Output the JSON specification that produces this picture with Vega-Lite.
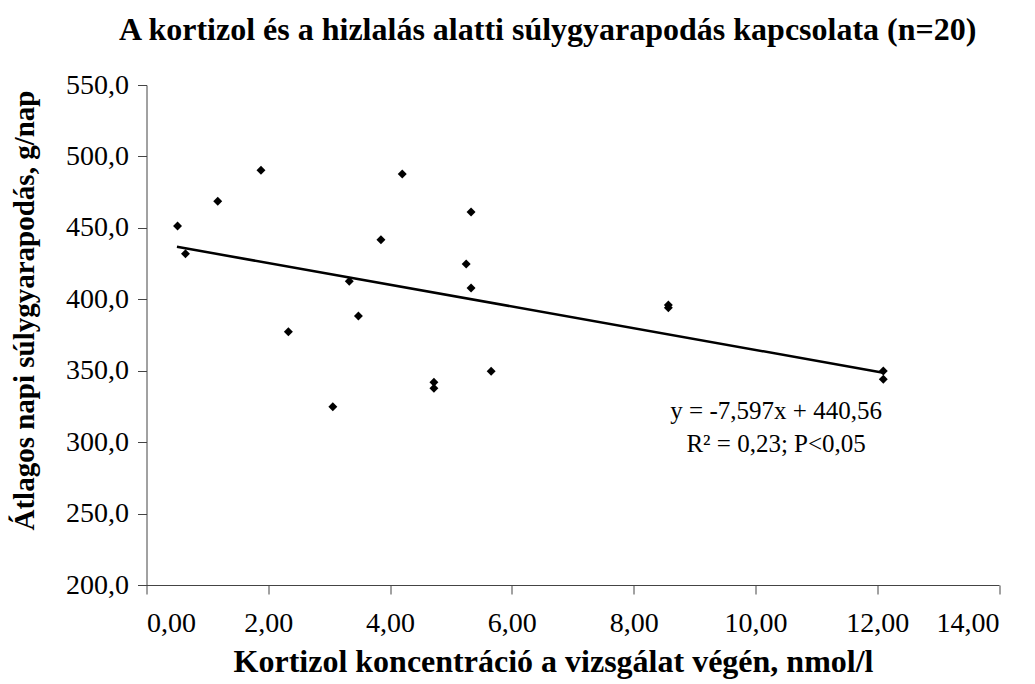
{
  "$schema": "https://vega.github.io/schema/vega-lite/v6.json",
  "width": 852.5,
  "height": 500,
  "autosize": "none",
  "padding": {"left": 146.5, "top": 85, "right": 36, "bottom": 99},
  "background": "white",
  "title": {
    "text": "A kortizol és a hizlalás alatti súlygyarapodás kapcsolata (n=20)",
    "font": "Liberation Serif",
    "fontSize": 32,
    "fontWeight": "bold",
    "color": "black",
    "anchor": "middle",
    "dx": -25,
    "offset": 24
  },
  "config": {
    "view": {"stroke": null},
    "locale": {
      "number": {"decimal": ",", "thousands": " ", "grouping": [3], "currency": ["", " Ft"]}
    },
    "axis": {
      "grid": false,
      "domainColor": "#444444",
      "tickColor": "#444444",
      "domainWidth": 1,
      "tickWidth": 1,
      "tickSize": 9,
      "labelFont": "Liberation Serif",
      "labelFontSize": 28,
      "labelColor": "black",
      "titleFont": "Liberation Serif",
      "titleFontWeight": "bold",
      "titleColor": "black"
    }
  },
  "datasets": {
    "points": [
      {"kortizol": 0.51, "gyarapodas": 451.3},
      {"kortizol": 0.64, "gyarapodas": 431.9},
      {"kortizol": 1.17, "gyarapodas": 468.6},
      {"kortizol": 1.88, "gyarapodas": 490.3},
      {"kortizol": 2.33, "gyarapodas": 377.3},
      {"kortizol": 3.06, "gyarapodas": 324.8},
      {"kortizol": 3.33, "gyarapodas": 412.6},
      {"kortizol": 3.48, "gyarapodas": 388.3},
      {"kortizol": 3.85, "gyarapodas": 441.7},
      {"kortizol": 4.20, "gyarapodas": 487.7},
      {"kortizol": 4.72, "gyarapodas": 341.9},
      {"kortizol": 4.72, "gyarapodas": 337.7},
      {"kortizol": 5.25, "gyarapodas": 424.7},
      {"kortizol": 5.33, "gyarapodas": 461.1},
      {"kortizol": 5.33, "gyarapodas": 407.9},
      {"kortizol": 5.66, "gyarapodas": 349.6},
      {"kortizol": 8.57, "gyarapodas": 396.0},
      {"kortizol": 8.57, "gyarapodas": 394.0},
      {"kortizol": 12.10, "gyarapodas": 349.8},
      {"kortizol": 12.10, "gyarapodas": 344.0}
    ],
    "fit": [
      {"kortizol": 0.50, "gyarapodas": 436.76},
      {"kortizol": 12.10, "gyarapodas": 348.64}
    ],
    "labels": [
      {"kortizol": 10.34, "gyarapodas": 316.0, "text": "y = -7,597x + 440,56"},
      {"kortizol": 10.34, "gyarapodas": 293.3, "text": "R² = 0,23; P<0,05"}
    ]
  },
  "layer": [
    {
      "data": {"name": "points"},
      "mark": {"type": "point", "shape": "diamond", "filled": true, "color": "black", "size": 80, "opacity": 1},
      "encoding": {
        "x": {
          "field": "kortizol",
          "type": "quantitative",
          "scale": {"domain": [0, 14], "nice": false, "zero": false},
          "axis": {
            "values": [0, 2, 4, 6, 8, 10, 12, 14],
            "format": ".2f",
            "labelPadding": 15,
            "title": "Kortizol koncentráció a vizsgálat végén, nmol/l",
            "titleFontSize": 32,
            "titleX": 406.5,
            "titleY": 86,
            "titleBaseline": "alphabetic",
            "titleAlign": "center"
          }
        },
        "y": {
          "field": "gyarapodas",
          "type": "quantitative",
          "scale": {"domain": [200, 550], "nice": false, "zero": false},
          "axis": {
            "values": [200, 250, 300, 350, 400, 450, 500, 550],
            "format": ".1f",
            "labelPadding": 9,
            "title": "Átlagos napi súlygyarapodás, g/nap",
            "titleFontSize": 29,
            "titleAngle": -90,
            "titleX": -113,
            "titleY": 225,
            "titleBaseline": "alphabetic",
            "titleAlign": "center"
          }
        }
      }
    },
    {
      "data": {"name": "fit"},
      "mark": {"type": "line", "color": "black", "strokeWidth": 2.5},
      "encoding": {
        "x": {"field": "kortizol", "type": "quantitative"},
        "y": {"field": "gyarapodas", "type": "quantitative"}
      }
    },
    {
      "data": {"name": "labels"},
      "mark": {"type": "text", "font": "Liberation Serif", "fontSize": 25, "color": "black", "align": "center", "baseline": "alphabetic"},
      "encoding": {
        "x": {"field": "kortizol", "type": "quantitative"},
        "y": {"field": "gyarapodas", "type": "quantitative"},
        "text": {"field": "text"}
      }
    }
  ]
}
